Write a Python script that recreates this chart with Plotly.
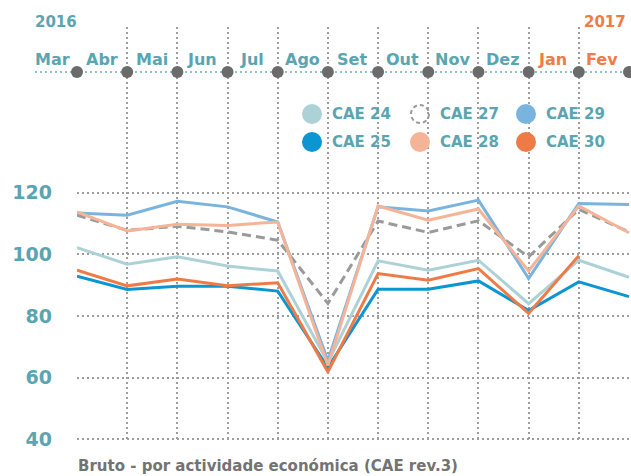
import plotly.graph_objects as go

months = ["Mar", "Abr", "Mai", "Jun", "Jul", "Ago", "Set", "Out", "Nov", "Dez", "Jan", "Fev"]
years = ["2016", "2017"]
y_ticks = [40, 60, 80, 100, 120]

cae24 = [102.2, 96.8, 99.2, 96.2, 94.6, 65.0, 97.9, 94.9, 98.1, 84.0, 98.1, 92.6]
cae25 = [92.9, 88.6, 89.7, 89.7, 88.1, 63.3, 88.7, 88.7, 91.4, 81.8, 91.1, 86.3]
cae27 = [112.7, 107.8, 109.1, 107.3, 104.6, 84.1, 110.8, 107.1, 110.9, 99.2, 114.6, 107.3]
cae28 = [113.8, 107.6, 109.8, 109.4, 110.5, 64.0, 115.7, 111.1, 114.7, 94.6, 115.7, 107.0]
cae29 = [113.4, 112.7, 117.2, 115.4, 110.5, 65.5, 115.4, 114.1, 117.6, 92.2, 116.5, 116.2]
cae30 = [94.9, 89.8, 92.0, 89.8, 90.8, 61.9, 93.8, 91.6, 95.4, 80.9, 99.6, None]

series = [
    ("CAE 24", cae24, "#acd2d8", "solid"),
    ("CAE 25", cae25, "#0b95d1", "solid"),
    ("CAE 27", cae27, "#9a9a9a", "9px,5px"),
    ("CAE 29", cae29, "#79b4df", "solid"),
    ("CAE 28", cae28, "#f5b497", "solid"),
    ("CAE 30", cae30, "#ee7b46", "solid"),
]

TEAL = "#5aa5b1"
ORANGE = "#ef7b45"
FONT = "DejaVu Sans"

W, H = 631, 476
ML, MR, MT, MB = 77, 1, 27, 35
plot_w = W - ML - MR
plot_h = H - MT - MB

def px_x(px):
    return (px - ML) / plot_w

def px_y(py):
    return (H - MB - py) / plot_h

fig = go.Figure()
x = list(range(len(months)))
for name, vals, color, dash in series:
    fig.add_trace(go.Scatter(x=x, y=vals, mode="lines", name=name,
                             line=dict(color=color, width=3, dash=dash),
                             connectgaps=False, showlegend=False, hoverinfo="skip"))

# top timeline dots
TOP_V = 159.1
fig.add_trace(go.Scatter(x=x, y=[TOP_V] * len(x), mode="markers",
                         marker=dict(color="#6b6b6b", size=12),
                         cliponaxis=False, showlegend=False, hoverinfo="skip"))

shapes = []
shapes.append(dict(type="line", xref="paper", yref="y", x0=px_x(35), x1=1.0,
                   y0=TOP_V, y1=TOP_V, line=dict(color="#8cc3cb", width=2, dash="2px,3px"),
                   layer="below"))

annotations = []
step_px = 50
for i, m in enumerate(months):
    col = ORANGE if i >= 10 else TEAL
    cx = ML + (i - 0.5) * step_px
    annotations.append(dict(x=px_x(cx), y=px_y(59), xref="paper", yref="paper", text=m,
                            showarrow=False,
                            font=dict(family=FONT, size=16, color=col, weight="bold"),
                            xanchor="center", yanchor="middle"))
annotations.append(dict(x=px_x(79), y=px_y(22), xref="paper", yref="paper", text=years[0],
                        showarrow=False, xanchor="right", yanchor="middle",
                        font=dict(family=FONT, size=15, color=TEAL, weight="bold")))
annotations.append(dict(x=px_x(628), y=px_y(22), xref="paper", yref="paper", text=years[1],
                        showarrow=False, xanchor="right", yanchor="middle",
                        font=dict(family=FONT, size=15, color=ORANGE, weight="bold")))

legend_order = [("CAE 24", 312, 114), ("CAE 27", 420, 114), ("CAE 29", 526, 114),
                ("CAE 25", 312, 142), ("CAE 28", 420, 142), ("CAE 30", 526, 142)]
colors = {n: c for n, _, c, _ in series}
R = 10
for name, cx, cy in legend_order:
    if name == "CAE 27":
        shapes.append(dict(type="circle", xref="paper", yref="paper",
                           x0=px_x(cx - R + 1), x1=px_x(cx + R - 1),
                           y0=px_y(cy + R - 1), y1=px_y(cy - R + 1),
                           line=dict(color="#9a9a9a", width=2, dash="4px,3px"),
                           fillcolor="rgba(0,0,0,0)"))
    else:
        shapes.append(dict(type="circle", xref="paper", yref="paper",
                           x0=px_x(cx - R), x1=px_x(cx + R),
                           y0=px_y(cy + R), y1=px_y(cy - R),
                           line=dict(width=0), fillcolor=colors[name]))
    annotations.append(dict(x=px_x(cx + 18), y=px_y(cy), xref="paper", yref="paper",
                            text=name, showarrow=False, xanchor="left", yanchor="middle",
                            font=dict(family=FONT, size=15, color=TEAL, weight="bold")))

annotations.append(dict(x=px_x(76), y=px_y(466), xref="paper", yref="paper",
                        text="Bruto - por actividade económica (CAE rev.3)", showarrow=False,
                        xanchor="left", yanchor="middle",
                        font=dict(family=FONT, size=15, color="#737373", weight="bold")))

fig.update_layout(
    width=W, height=H,
    margin=dict(l=ML, r=MR, t=MT, b=MB, pad=0),
    paper_bgcolor="white", plot_bgcolor="white",
    shapes=shapes, annotations=annotations,
    xaxis=dict(range=[0, 11.02], tickvals=x, showticklabels=False, showgrid=True,
               gridcolor="#9d9d9d", gridwidth=2, griddash="2px,3px",
               zeroline=False, showline=False, ticks=""),
    yaxis=dict(range=[39.51, 173.7], tickvals=y_ticks, ticktext=[str(v) for v in y_ticks],
               showgrid=True, gridcolor="#9d9d9d", gridwidth=2, griddash="2px,3px",
               zeroline=False, showline=False, ticks="",
               ticklabelstandoff=24,
               tickfont=dict(family=FONT, size=19, color=TEAL, weight="bold")),
)

fig.write_html("out.html", config={"displayModeBar": False},
               post_script="document.body.style.margin='0';document.body.style.padding='0';")
